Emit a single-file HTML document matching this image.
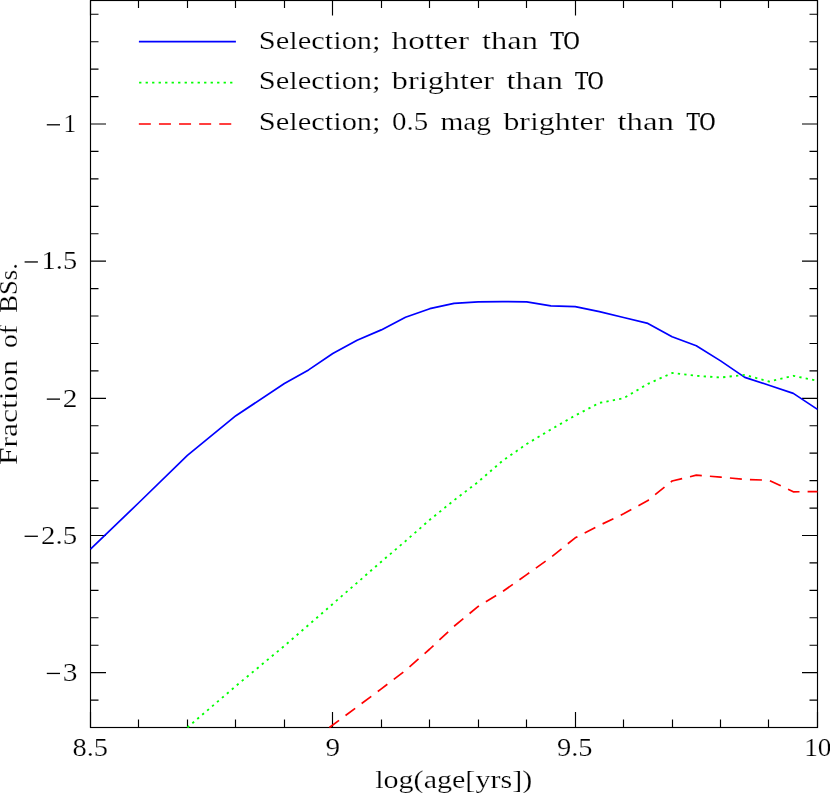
<!DOCTYPE html>
<html><head><meta charset="utf-8"><title>Fraction of BSs vs log(age)</title>
<style>
html,body{margin:0;padding:0;background:#fff;}
svg{display:block;}
text{font-family:"Liberation Serif",serif;fill:#000;stroke:#fff;stroke-width:0.2px;paint-order:fill stroke;}
text.k{stroke:#000;stroke-width:0.25px;}
</style></head>
<body>
<svg width="830" height="793" viewBox="0 0 830 793">
<rect x="0" y="0" width="830" height="793" fill="#fff"/>
<filter id="g" x="0" y="0" width="830" height="793" filterUnits="userSpaceOnUse"><feOffset dx="0" dy="0"/></filter>
<g stroke="#000" stroke-width="1.15" fill="none" stroke-linecap="butt">
<rect x="90.5" y="0.5" width="727.00" height="727.00"/>
<path d="M90.50 727.5V712.00M90.50 0.5V15.40M138.50 727.5V719.50M138.50 0.5V7.90M187.50 727.5V719.50M187.50 0.5V7.90M235.50 727.5V719.50M235.50 0.5V7.90M284.50 727.5V719.50M284.50 0.5V7.90M332.50 727.5V712.00M332.50 0.5V15.40M381.50 727.5V719.50M381.50 0.5V7.90M429.50 727.5V719.50M429.50 0.5V7.90M478.50 727.5V719.50M478.50 0.5V7.90M526.50 727.5V719.50M526.50 0.5V7.90M575.50 727.5V712.00M575.50 0.5V15.40M623.50 727.5V719.50M623.50 0.5V7.90M672.50 727.5V719.50M672.50 0.5V7.90M720.50 727.5V719.50M720.50 0.5V7.90M768.50 727.5V719.50M768.50 0.5V7.90M817.50 727.5V712.00M817.50 0.5V15.40M90.5 727.50H98.50M817.5 727.50H809.50M90.5 700.07H98.50M817.5 700.07H809.50M90.5 672.64H106.00M817.5 672.64H802.00M90.5 645.21H98.50M817.5 645.21H809.50M90.5 617.78H98.50M817.5 617.78H809.50M90.5 590.34H98.50M817.5 590.34H809.50M90.5 562.91H98.50M817.5 562.91H809.50M90.5 535.48H106.00M817.5 535.48H802.00M90.5 508.05H98.50M817.5 508.05H809.50M90.5 480.62H98.50M817.5 480.62H809.50M90.5 453.18H98.50M817.5 453.18H809.50M90.5 425.75H98.50M817.5 425.75H809.50M90.5 398.32H106.00M817.5 398.32H802.00M90.5 370.89H98.50M817.5 370.89H809.50M90.5 343.46H98.50M817.5 343.46H809.50M90.5 316.02H98.50M817.5 316.02H809.50M90.5 288.59H98.50M817.5 288.59H809.50M90.5 261.16H106.00M817.5 261.16H802.00M90.5 233.73H98.50M817.5 233.73H809.50M90.5 206.30H98.50M817.5 206.30H809.50M90.5 178.86H98.50M817.5 178.86H809.50M90.5 151.43H98.50M817.5 151.43H809.50M90.5 124.00H106.00M817.5 124.00H802.00M90.5 96.57H98.50M817.5 96.57H809.50M90.5 69.14H98.50M817.5 69.14H809.50M90.5 41.70H98.50M817.5 41.70H809.50M90.5 14.27H98.50M817.5 14.27H809.50"/>
</g>
<g fill="none" stroke-width="1.7" stroke-linejoin="round">
<polyline stroke="#0000ff" points="90.5,549.2 139.0,502.5 187.4,455.4 235.9,415.7 284.4,383.5 308.6,369.9 332.8,353.5 357.1,340.2 381.3,329.9 405.5,317.3 429.8,308.7 454.0,303.4 478.2,301.9 502.5,301.6 526.7,301.8 550.9,305.9 575.2,306.6 599.4,311.7 623.6,317.5 647.9,323.4 672.1,336.7 696.3,345.8 720.6,360.9 744.8,377.4 769.0,385.2 793.3,393.4 817.5,409.4"/>
<polyline stroke="#00ff00" stroke-width="1.85" stroke-dasharray="2.3 4.2" points="187.4,727.5 235.9,686.0 284.4,645.9 332.8,603.9 381.3,561.7 405.5,541.1 429.8,519.8 454.0,500.3 478.2,481.9 502.5,460.9 526.7,444.0 550.9,429.5 575.2,415.5 599.4,402.9 623.6,398.2 647.9,383.9 672.1,373.0 696.3,375.8 720.6,377.5 744.8,374.9 769.0,381.5 793.3,375.8 817.5,380.8"/>
<polyline stroke="#ff0000" stroke-dasharray="12 8.1" points="329.4,727.5 381.3,688.9 405.5,670.4 429.8,649.0 454.0,626.3 478.2,606.4 502.5,591.7 526.7,574.6 550.9,557.4 575.2,537.8 599.4,525.4 623.6,513.8 647.9,500.5 672.1,481.0 696.3,475.2 720.6,477.1 744.8,479.5 769.0,480.2 793.3,491.8 817.5,491.6"/>
<path stroke="#0000ff" d="M138.9 41.65H235.9"/>
<path stroke="#00ff00" stroke-dasharray="2.3 4.2" d="M139.1 82.55H235.9"/>
<path stroke="#ff0000" stroke-dasharray="12 8.1" d="M138.85 124H235.9"/>
</g>
<g filter="url(#g)">
<text x="258.7" y="49.0" font-size="25" textLength="121.9" lengthAdjust="spacingAndGlyphs">Selection;</text>
<text x="258.7" y="89.0" font-size="25" textLength="121.9" lengthAdjust="spacingAndGlyphs">Selection;</text>
<text x="258.7" y="129.9" font-size="25" textLength="121.9" lengthAdjust="spacingAndGlyphs">Selection;</text>
<text x="391.6" y="49.0" font-size="25" textLength="77.6" lengthAdjust="spacingAndGlyphs">hotter</text>
<text x="482.0" y="49.0" font-size="25" textLength="55.9" lengthAdjust="spacingAndGlyphs">than</text>
<text class="k" x="550.3" y="49.0" font-size="25" textLength="29.3" lengthAdjust="spacingAndGlyphs">TO</text>
<text x="391.8" y="89.0" font-size="25" textLength="102.2" lengthAdjust="spacingAndGlyphs">brighter</text>
<text x="506.4" y="89.0" font-size="25" textLength="56.6" lengthAdjust="spacingAndGlyphs">than</text>
<text class="k" x="574.9" y="89.0" font-size="25" textLength="28.7" lengthAdjust="spacingAndGlyphs">TO</text>
<text x="392.0" y="129.9" font-size="25" textLength="36.2" lengthAdjust="spacingAndGlyphs">0.5</text>
<text x="440.4" y="129.9" font-size="25" textLength="50.6" lengthAdjust="spacingAndGlyphs">mag</text>
<text x="503.4" y="129.9" font-size="25" textLength="101.0" lengthAdjust="spacingAndGlyphs">brighter</text>
<text x="617.4" y="129.9" font-size="25" textLength="56.6" lengthAdjust="spacingAndGlyphs">than</text>
<text class="k" x="686.4" y="129.9" font-size="25" textLength="28.9" lengthAdjust="spacingAndGlyphs">TO</text>
<text x="72.4" y="756.3" font-size="25" textLength="35.6" lengthAdjust="spacingAndGlyphs">8.5</text>
<text x="325.4" y="756.3" font-size="25" textLength="14.6" lengthAdjust="spacingAndGlyphs">9</text>
<text x="557" y="756.3" font-size="25" textLength="35.6" lengthAdjust="spacingAndGlyphs">9.5</text>
<text x="804.2" y="756.3" font-size="25" textLength="27.3" lengthAdjust="spacingAndGlyphs">10</text>
<path d="M46.8 124.80H60.0" stroke="#000" stroke-width="1.3"/><text x="63.6" y="132.3" font-size="25" textLength="12.6" lengthAdjust="spacingAndGlyphs">1</text>
<path d="M24.6 261.96H37.9" stroke="#000" stroke-width="1.3"/><text x="41.6" y="269.46" font-size="25" textLength="35.5" lengthAdjust="spacingAndGlyphs">1.5</text>
<path d="M46.8 399.12H60.0" stroke="#000" stroke-width="1.3"/><text x="62.8" y="406.62" font-size="25" textLength="14.7" lengthAdjust="spacingAndGlyphs">2</text>
<path d="M24.6 536.28H37.9" stroke="#000" stroke-width="1.3"/><text x="41.0" y="543.78" font-size="25" textLength="36.1" lengthAdjust="spacingAndGlyphs">2.5</text>
<path d="M46.8 673.44H60.0" stroke="#000" stroke-width="1.3"/><text x="62.8" y="680.94" font-size="25" textLength="14.7" lengthAdjust="spacingAndGlyphs">3</text>
<text x="375.2" y="787.5" font-size="25" textLength="157.0" lengthAdjust="spacingAndGlyphs">log(age[yrs])</text>
<text transform="translate(16.7 464.9) rotate(-90)" x="0" y="0" font-size="25" textLength="105.0" lengthAdjust="spacingAndGlyphs">Fraction</text>
<text transform="translate(16.7 347.9) rotate(-90)" x="0" y="0" font-size="25" textLength="22.8" lengthAdjust="spacingAndGlyphs">of</text>
<text transform="translate(16.7 312.7) rotate(-90)" x="0" y="0" font-size="25" textLength="49.6" lengthAdjust="spacingAndGlyphs">BSs.</text>
</g>
</svg>
</body></html>
